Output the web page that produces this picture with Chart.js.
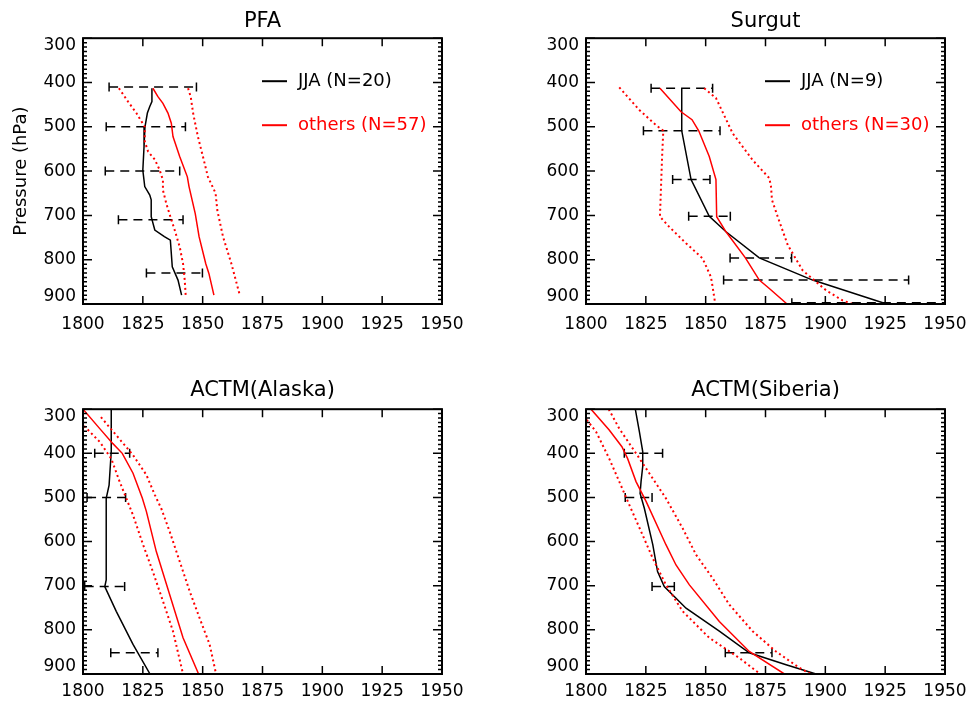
<!DOCTYPE html>
<html>
<head>
<meta charset="utf-8">
<script src="https://cdn.jsdelivr.net/npm/chart.js@4.4.1/dist/chart.umd.min.js"></script>
<style>
  html, body { margin: 0; padding: 0; background: #fff; overflow: hidden; }
  canvas { position: absolute; }
</style>
</head>
<body>
<canvas id="pfaChart" width="483" height="352" style="left:0;top:0"></canvas>
<canvas id="surgutChart" width="464" height="352" style="left:503px;top:0"></canvas>
<canvas id="alaskaChart" width="483" height="352" style="left:0;top:352px"></canvas>
<canvas id="siberiaChart" width="464" height="352" style="left:503px;top:352px"></canvas>
<script>
// axis ticks
const xTicks = [1800, 1825, 1850, 1875, 1900, 1925, 1950];
const pressureTicks = [300, 400, 500, 600, 700, 800, 900];

// PFA  ([value, pressure])
const pfaJja = [[1828.8,413],[1828.8,443],[1827.9,454],[1826.9,469],[1825.9,500],[1825.5,545],[1825.0,598],[1825.8,635],[1827.9,654],[1828.5,665],[1828.5,703],[1830.0,733],[1834.0,748],[1836.5,756],[1837.3,816],[1839.7,846],[1841.2,880]];
const pfaOthers = [[1829.2,413],[1831.3,432],[1833.4,447],[1835.5,469],[1836.9,492],[1837.6,522],[1840.4,567],[1843.6,613],[1844.3,635],[1846.9,696],[1848.5,748],[1851.3,809],[1852.6,831],[1854.7,880]];
const pfaOthersLo = [[1815.0,413],[1818.8,443],[1822.3,469],[1825.8,500],[1825.8,533],[1827.2,556],[1830.0,574],[1832.0,597],[1833.4,620],[1833.4,643],[1834.8,673],[1836.5,703],[1838.3,733],[1840.4,771],[1841.8,809],[1842.5,846],[1842.9,880]];
const pfaOthersHi = [[1843.9,413],[1845.0,432],[1846.0,469],[1848.0,522],[1850.1,567],[1852.2,613],[1855.4,650],[1856.1,688],[1858.5,748],[1862.0,809],[1865.5,880]];
const pfaBars = [[410,1810.9,1847.4],[500,1809.7,1842.8],[600,1809.3,1840.4],[710,1814.8,1841.8],[830,1826.5,1849.9]];
const pfaLegend = ['JJA (N=20)', 'others (N=57)'];

// Surgut
const surJja = [[1840.0,413],[1840.0,509],[1843.9,619],[1851.5,702],[1858.5,737],[1872.4,796],[1894.7,846],[1924.0,897]];
const surOthers = [[1830.9,413],[1839.7,466],[1844.3,484],[1847.1,509],[1851.5,567],[1854.3,619],[1854.6,703],[1858.5,737],[1866.6,796],[1872.4,846],[1876.6,865],[1884.0,900]];
const surOthersLo = [[1813.9,411],[1822.3,462],[1829.2,496],[1832.3,509],[1831.8,567],[1830.9,703],[1834.8,726],[1841.8,763],[1848.7,797],[1852.2,839],[1852.9,861],[1854.0,900]];
const surOthersHi = [[1849.4,413],[1854.3,435],[1861.3,515],[1869.6,575],[1876.6,616],[1877.3,635],[1877.7,665],[1880.1,703],[1884.3,767],[1890.5,824],[1900.3,869],[1907.2,892],[1911.4,900]];
const surBars = [[413,1827.2,1852.9],[509,1824.0,1856.0],[619,1836.2,1851.8],[702,1842.9,1860.3],[796,1860.2,1885.9],[846,1857.5,1934.8],[897,1886.0,1962.0]];
const surLegend = ['JJA (N=9)', 'others (N=30)'];

// ACTM(Alaska)
const alaJja = [[1811.8,300],[1811.8,396],[1810.9,472],[1809.7,502],[1809.7,687],[1809.1,702],[1813.9,758],[1820.9,833],[1828.0,900]];
const alaOthers = [[1800.0,300],[1807.0,344],[1812.5,378],[1816.4,400],[1820.9,445],[1824.8,502],[1826.5,532],[1830.6,622],[1836.2,720],[1841.8,818],[1848.3,900]];
const alaOthersLo = [[1799.0,330],[1807.0,374],[1811.8,412],[1815.3,464],[1820.9,540],[1825.1,607],[1829.2,668],[1833.4,735],[1837.6,803],[1841.8,900]];
const alaOthersHi = [[1807.5,318],[1813.9,359],[1820.9,404],[1826.5,449],[1830.0,494],[1832.7,525],[1836.2,577],[1840.4,645],[1844.6,713],[1848.7,773],[1852.9,833],[1855.6,900]];
const alaBars = [[400,1804.9,1819.5],[500,1801.7,1817.8],[702,1800.7,1817.4],[852,1811.6,1831.3]];

// ACTM(Siberia)
const sibJja = [[1820.6,300],[1822.3,351],[1823.7,396],[1823.7,430],[1823.0,464],[1822.6,491],[1824.4,525],[1827.9,607],[1829.9,668],[1832.7,702],[1841.8,751],[1855.7,803],[1868.2,852],[1883.6,879],[1896.1,900]];
const sibOthers = [[1802.1,300],[1809.7,347],[1815.0,385],[1817.4,412],[1820.9,464],[1825.1,509],[1833.4,607],[1837.6,653],[1843.2,698],[1855.7,781],[1868.2,849],[1882.9,900]];
const sibOthersLo = [[1799.0,315],[1804.2,351],[1809.7,412],[1813.9,464],[1818.1,517],[1823.0,577],[1827.9,638],[1833.4,698],[1840.4,758],[1851.5,818],[1864.1,864],[1872.8,900]];
const sibOthersHi = [[1809.5,300],[1813.9,344],[1820.9,400],[1827.9,457],[1833.4,502],[1840.4,570],[1846.0,630],[1852.9,683],[1859.9,743],[1869.6,803],[1879.4,849],[1889.1,886],[1894.0,900]];
const sibBars = [[400,1816.0,1832.0],[500,1816.4,1827.6],[702,1827.6,1836.9],[852,1858.2,1877.7]];

const FONT = '"DejaVu Sans", sans-serif';
const RED = '#ff0000';

function toPoints(pairs) {
    return pairs.map(p => ({ x: p[0], y: p[1] }));
}

function barPoints(bars) {
    const pts = [];
    bars.forEach(b => {
        pts.push({ x: b[1], y: b[0] }, { x: b[2], y: b[0] }, { x: null, y: null });
    });
    return pts;
}

// end labels sit inside the box, like the original
function pressureLabel(v) {
    if (v === pressureTicks[0]) return ['', String(v)];
    if (v === pressureTicks[pressureTicks.length - 1]) return [String(v), ''];
    return String(v);
}

// inward IDL-style ticks and the box round the plot
const frameTicks = {
    id: 'frameTicks',
    afterDatasetsDraw(chart) {
        const { ctx, chartArea: a, scales: { x, y } } = chart;
        ctx.save();
        ctx.strokeStyle = '#000';
        ctx.lineWidth = 1.5;
        ctx.beginPath();
        xTicks.forEach(v => {
            const px = x.getPixelForValue(v);
            ctx.moveTo(px, a.bottom); ctx.lineTo(px, a.bottom - 8);
            ctx.moveTo(px, a.top); ctx.lineTo(px, a.top + 8);
        });
        for (let p = 300; p <= 900; p += 10) {
            const py = y.getPixelForValue(p);
            const len = p % 100 === 0 ? 9 : 4;
            ctx.moveTo(a.left, py); ctx.lineTo(a.left + len, py);
            ctx.moveTo(a.right, py); ctx.lineTo(a.right - len, py);
        }
        ctx.stroke();
        ctx.lineWidth = 2;
        ctx.strokeRect(a.left, a.top, a.right - a.left, a.bottom - a.top);
        ctx.restore();
    }
};

function makePanel(id, title, jja, others, lo, hi, bars, legend, top, padRight) {
    const legendPlugin = {
        id: 'insetLegend',
        afterDraw(chart) {
            if (!legend) return;
            const { ctx, chartArea: a } = chart;
            const rows = [43, 87];
            const colors = ['#000', RED];
            ctx.save();
            ctx.font = '18px ' + FONT;
            ctx.textBaseline = 'middle';
            legend.forEach((text, i) => {
                const yy = a.top + rows[i];
                ctx.strokeStyle = colors[i];
                ctx.lineWidth = 2;
                ctx.beginPath();
                ctx.moveTo(a.left + 179, yy);
                ctx.lineTo(a.left + 204, yy);
                ctx.stroke();
                ctx.fillStyle = colors[i];
                ctx.fillText(text, a.left + 215, yy);
            });
            ctx.restore();
        }
    };

    new Chart(document.getElementById(id), {
        type: 'scatter',
        data: {
            datasets: [
                {
                    label: 'others lo',
                    data: toPoints(lo),
                    showLine: true,
                    borderColor: RED,
                    borderWidth: 2,
                    borderDash: [2, 3],
                    pointRadius: 0
                },
                {
                    label: 'others hi',
                    data: toPoints(hi),
                    showLine: true,
                    borderColor: RED,
                    borderWidth: 2,
                    borderDash: [2, 3],
                    pointRadius: 0
                },
                {
                    label: 'others',
                    data: toPoints(others),
                    showLine: true,
                    borderColor: RED,
                    borderWidth: 1.5,
                    pointRadius: 0
                },
                {
                    label: 'JJA',
                    data: toPoints(jja),
                    showLine: true,
                    borderColor: '#000',
                    borderWidth: 1.5,
                    pointRadius: 0
                },
                {
                    label: 'JJA spread',
                    data: barPoints(bars),
                    showLine: true,
                    spanGaps: false,
                    borderColor: '#000',
                    borderWidth: 1.5,
                    borderDash: [9, 6],
                    pointStyle: 'line',
                    rotation: 90,
                    pointRadius: 4.5,
                    pointBorderWidth: 1.5,
                    pointBorderColor: '#000'
                }
            ]
        },
        options: {
            responsive: false,
            animation: false,
            layout: {
                padding: { left: 0, right: padRight, top: 0, bottom: 0 }
            },
            plugins: {
                legend: { display: false },
                tooltip: { enabled: false },
                title: {
                    display: true,
                    text: title,
                    fullSize: false,
                    color: '#000',
                    font: { family: FONT, size: 21, weight: 'normal', lineHeight: 1.2 },
                    padding: top ? { top: 9, bottom: 4 } : { top: 26, bottom: 6 }
                }
            },
            scales: {
                x: {
                    type: 'linear',
                    min: 1800,
                    max: 1950,
                    afterBuildTicks: s => { s.ticks = xTicks.map(v => ({ value: v })); },
                    afterFit: s => {
                        s.height = top ? 48 : 30;
                        s.paddingLeft = 0;
                        s.paddingRight = 0;
                    },
                    grid: { display: false, drawTicks: false },
                    border: { display: false },
                    ticks: {
                        color: '#000',
                        maxRotation: 0,
                        autoSkip: false,
                        padding: top ? 10 : 7,
                        font: { family: FONT, size: 17 },
                        callback: v => String(v)
                    }
                },
                y: {
                    type: 'linear',
                    reverse: true,
                    min: 300,
                    max: 900,
                    afterBuildTicks: s => { s.ticks = pressureTicks.map(v => ({ value: v })); },
                    afterFit: s => {
                        s.width = 83;
                        s.paddingTop = 0;
                        s.paddingBottom = 0;
                    },
                    grid: { display: false, drawTicks: false },
                    border: { display: false },
                    ticks: {
                        color: '#000',
                        padding: 7,
                        font: { family: FONT, size: 17, lineHeight: 0.9 },
                        callback: pressureLabel
                    },
                    title: {
                        display: id === 'pfaChart',
                        text: 'Pressure (hPa)',
                        color: '#000',
                        font: { family: FONT, size: 18 },
                        padding: { top: 11, bottom: 0 }
                    }
                }
            }
        },
        plugins: [frameTicks, legendPlugin]
    });
}

makePanel('pfaChart', 'PFA', pfaJja, pfaOthers, pfaOthersLo, pfaOthersHi, pfaBars, pfaLegend, true, 41);
makePanel('surgutChart', 'Surgut', surJja, surOthers, surOthersLo, surOthersHi, surBars, surLegend, true, 22);
makePanel('alaskaChart', 'ACTM(Alaska)', alaJja, alaOthers, alaOthersLo, alaOthersHi, alaBars, null, false, 41);
makePanel('siberiaChart', 'ACTM(Siberia)', sibJja, sibOthers, sibOthersLo, sibOthersHi, sibBars, null, false, 22);
</script>
</body>
</html>
